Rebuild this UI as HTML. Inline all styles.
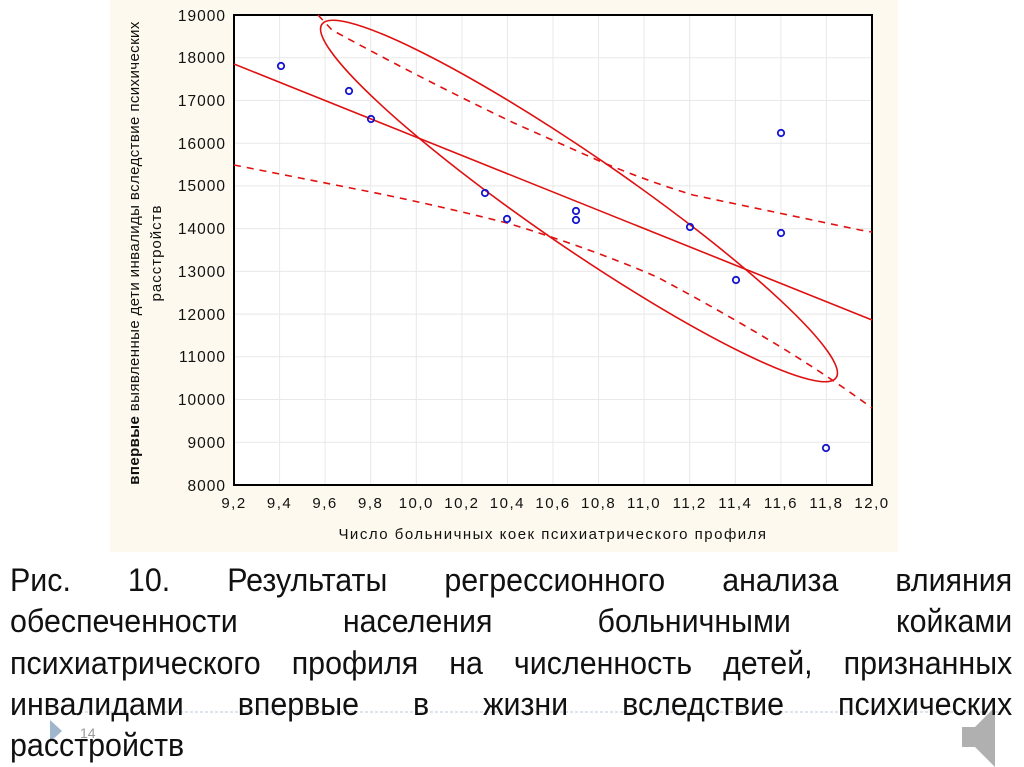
<!DOCTYPE html>
<html><head><meta charset="utf-8"><style>
body{margin:0;background:#fff;width:1024px;height:767px;overflow:hidden;position:relative;font-family:"Liberation Sans",sans-serif}
.cap{position:absolute;left:10px;width:1055px;top:560px;font-size:32px;line-height:41.3px;color:#111;transform:scaleX(0.95);transform-origin:0 0}
.cap div{text-align:justify;text-align-last:justify;white-space:nowrap}
.cap div.l{text-align-last:left}
</style></head><body>
<svg width="1024" height="767" style="position:absolute;left:0;top:0">
<rect x="110" y="0" width="788" height="552" fill="#fdf9ee"/>
<rect x="234" y="15" width="638" height="470" fill="#fff"/>
<g stroke="#e8e8e8" stroke-width="1">
<line x1="279.6" y1="15" x2="279.6" y2="485"/><line x1="325.1" y1="15" x2="325.1" y2="485"/><line x1="370.7" y1="15" x2="370.7" y2="485"/><line x1="416.3" y1="15" x2="416.3" y2="485"/><line x1="461.9" y1="15" x2="461.9" y2="485"/><line x1="507.4" y1="15" x2="507.4" y2="485"/><line x1="553" y1="15" x2="553" y2="485"/><line x1="598.6" y1="15" x2="598.6" y2="485"/><line x1="644.1" y1="15" x2="644.1" y2="485"/><line x1="689.7" y1="15" x2="689.7" y2="485"/><line x1="735.3" y1="15" x2="735.3" y2="485"/><line x1="780.9" y1="15" x2="780.9" y2="485"/><line x1="826.4" y1="15" x2="826.4" y2="485"/>
<line x1="234" y1="57.7" x2="872" y2="57.7"/><line x1="234" y1="100.5" x2="872" y2="100.5"/><line x1="234" y1="143.2" x2="872" y2="143.2"/><line x1="234" y1="185.9" x2="872" y2="185.9"/><line x1="234" y1="228.6" x2="872" y2="228.6"/><line x1="234" y1="271.4" x2="872" y2="271.4"/><line x1="234" y1="314.1" x2="872" y2="314.1"/><line x1="234" y1="356.8" x2="872" y2="356.8"/><line x1="234" y1="399.5" x2="872" y2="399.5"/><line x1="234" y1="442.3" x2="872" y2="442.3"/>
</g>
<rect x="234" y="15" width="638" height="470" fill="none" stroke="#000" stroke-width="2"/>
<g font-size="15.5" letter-spacing="1" fill="#111" text-anchor="end">
<text x="226" y="21">19000</text><text x="226" y="63">18000</text><text x="226" y="106">17000</text><text x="226" y="149">16000</text><text x="226" y="191">15000</text><text x="226" y="234">14000</text><text x="226" y="277">13000</text><text x="226" y="320">12000</text><text x="226" y="362">11000</text><text x="226" y="405">10000</text><text x="226" y="448">9000</text><text x="226" y="491">8000</text>
</g>
<g font-size="15" letter-spacing="1.5" fill="#111" text-anchor="middle">
<text x="234" y="508">9,2</text><text x="279.6" y="508">9,4</text><text x="325.1" y="508">9,6</text><text x="370.7" y="508">9,8</text><text x="416.3" y="508">10,0</text><text x="461.9" y="508">10,2</text><text x="507.4" y="508">10,4</text><text x="553" y="508">10,6</text><text x="598.6" y="508">10,8</text><text x="644.1" y="508">11,0</text><text x="689.7" y="508">11,2</text><text x="735.3" y="508">11,4</text><text x="780.9" y="508">11,6</text><text x="826.4" y="508">11,8</text><text x="872" y="508">12,0</text>
<text x="553" y="539">Число больничных коек психиатрического профиля</text>
</g>
<g font-size="15" fill="#111" text-anchor="middle">
<text transform="translate(139,253) rotate(-90)" letter-spacing="0.4"><tspan font-weight="bold">впервые</tspan> выявленные дети инвалиды вследствие психических</text>
<text transform="translate(161,253) rotate(-90)" letter-spacing="1">расстройств</text>
</g>
<g stroke="#e01010" stroke-width="1.6" fill="none">
<line x1="234" y1="64" x2="872" y2="320"/>
<ellipse cx="579" cy="201" rx="312" ry="46" transform="rotate(34.5 579 201)"/>
<path stroke-dasharray="7,6" d="M318,15 L332,30 Q420,78 514,123 L604,163 Q650,182 693,195 L860,230 L872,232"/>
<path stroke-dasharray="7,6" d="M234,165 L300,178 L371,192 Q440,206 507,223 Q590,248 657,277 Q710,305 764,337 Q820,370 872,408"/>
</g>
<g stroke="#1515d0" stroke-width="1.8" fill="none">
<circle cx="281" cy="66" r="3.2"/><circle cx="349" cy="91" r="3.2"/><circle cx="371" cy="119" r="3.2"/><circle cx="485" cy="193" r="3.2"/><circle cx="507" cy="219" r="3.2"/><circle cx="576" cy="211" r="3.2"/><circle cx="576" cy="220" r="3.2"/><circle cx="690" cy="227" r="3.2"/><circle cx="736" cy="280" r="3.2"/><circle cx="781" cy="133" r="3.2"/><circle cx="781" cy="233" r="3.2"/><circle cx="826" cy="448" r="3.2"/>
</g>
<line x1="80" y1="712" x2="1000" y2="712" stroke="#bcc8d8" stroke-dasharray="3,2"/>
<text x="80" y="738" font-size="14" fill="#999">14</text>
<path d="M50,720 L50,742 L62,731 Z" fill="#9fb6cc"/>
<path d="M962,727 L975,727 L995,707 L995,767 L975,747 L962,747 Z" fill="#b0b0b0"/>
</svg>
<div class="cap">
<div>Рис. 10. Результаты регрессионного анализа влияния</div>
<div>обеспеченности населения больничными койками</div>
<div>психиатрического профиля на численность детей, признанных</div>
<div>инвалидами впервые в жизни вследствие психических</div>
<div class="l">расстройств</div>
</div>
</body></html>
